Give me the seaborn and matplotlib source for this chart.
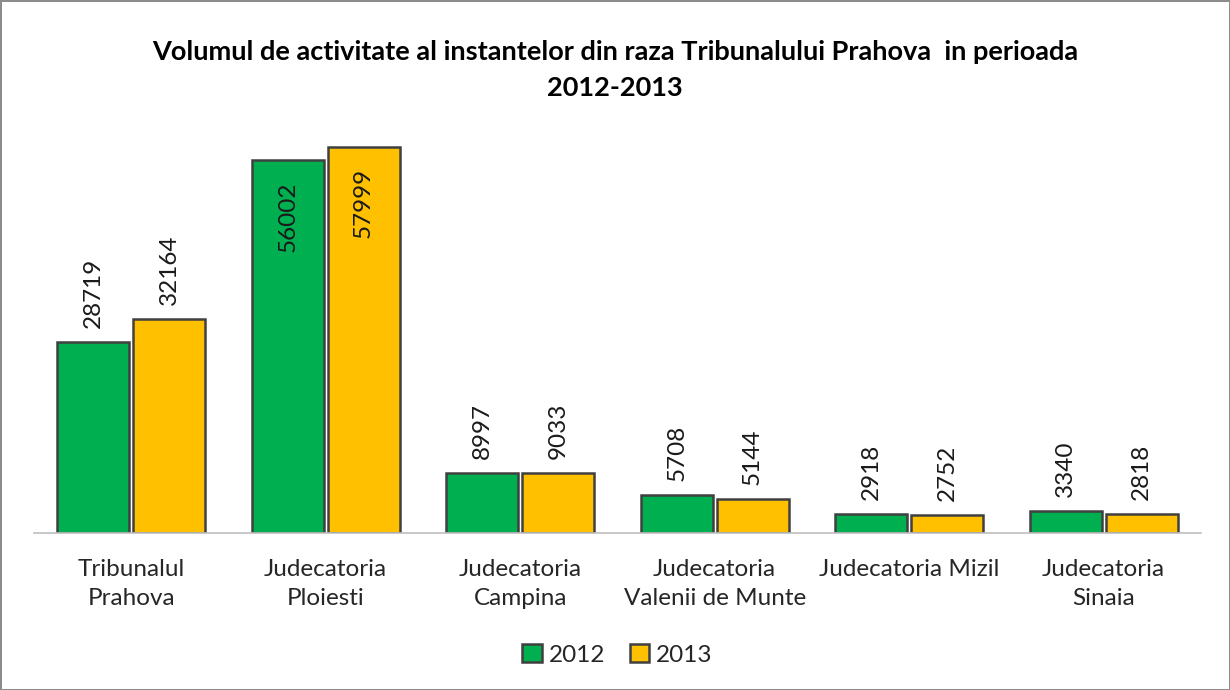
import numpy as np
import pandas as pd
import matplotlib
matplotlib.use('Agg')
import matplotlib.pyplot as plt
import seaborn as sns

categories = ['Tribunalul\nPrahova', 'Judecatoria\nPloiesti', 'Judecatoria\nCampina',
              'Judecatoria\nValenii de Munte', 'Judecatoria Mizil', 'Judecatoria\nSinaia']
years = ['2012', '2013']
values_2012 = [28719, 56002, 8997, 5708, 2918, 3340]
values_2013 = [32164, 57999, 9033, 5144, 2752, 2818]
colors = {'2012': '#00B050', '2013': '#FFC000'}

df = pd.DataFrame({
    'instanta': categories * 2,
    'an': ['2012'] * len(categories) + ['2013'] * len(categories),
    'volum': values_2012 + values_2013,
})

sns.set_style('white')
plt.rcParams['font.family'] = ['Lato', 'DejaVu Sans']

fig = plt.figure(figsize=(12.3, 6.9), dpi=100)
fig.patch.set_edgecolor('#8c8c8c')
fig.patch.set_linewidth(2)
ax = fig.add_axes([0.0276, 0.2275, 0.9488, 0.5785])

sns.barplot(data=df, x='instanta', y='volum', hue='an', hue_order=years,
            palette=colors, width=0.78, gap=0.05, edgecolor='#404040',
            linewidth=1.8, saturation=1, ax=ax, legend=True)

ax.set_ylim(0, 60000)
ax.set_xlim(-0.5, len(categories) - 0.5)
ax.set_xlabel('')
ax.set_ylabel('')
ax.set_yticks([])
for side in ['top', 'right', 'left']:
    ax.spines[side].set_visible(False)
ax.spines['bottom'].set_color('#bfbfbf')
ax.spines['bottom'].set_linewidth(1.2)
ax.tick_params(axis='x', length=0, pad=19, labelsize=17.5, colors='#262626')
for lbl in ax.get_xticklabels():
    lbl.set_linespacing(1.45)

# value labels, rotated; large bars get the label inside the top
for container in ax.containers:
    for bar in container:
        h = bar.get_height()
        xc = bar.get_x() + bar.get_width() / 2
        if h > 50000:
            ax.annotate(f'{int(h)}', (xc, h), xytext=(0, -15), textcoords='offset points',
                        rotation=90, ha='center', va='top', fontsize=17.5, color='#1a1a1a')
        else:
            ax.annotate(f'{int(h)}', (xc, h), xytext=(0, 10), textcoords='offset points',
                        rotation=90, ha='center', va='bottom', fontsize=17.5, color='#1a1a1a')

leg = ax.legend(loc='center', bbox_to_anchor=(0.5, -0.305), ncol=2, frameon=False,
                fontsize=17.5, handlelength=0.8, handleheight=0.8, handletextpad=0.3,
                columnspacing=1.0)
for t in leg.get_texts():
    t.set_color('#262626')

fig.text(0.5, 0.925, 'Volumul de activitate al instantelor din raza Tribunalului Prahova  in perioada',
         ha='center', va='center', fontsize=19.5, fontweight='bold', color='#000000')
fig.text(0.5, 0.873, '2012-2013', ha='center', va='center', fontsize=19.5,
         fontweight='bold', color='#000000')

fig.savefig('out.png', dpi=100)
